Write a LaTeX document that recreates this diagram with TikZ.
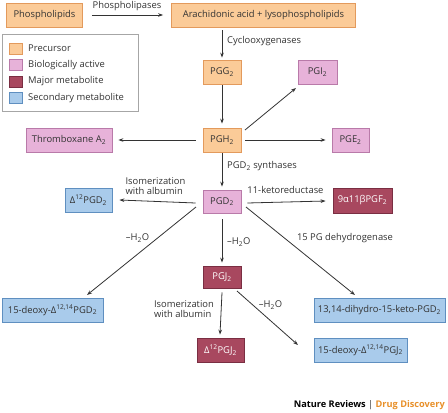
\documentclass[tikz,border=0pt]{standalone}
\usepackage{fontspec}
\setmainfont{Open Sans}
\usetikzlibrary{arrows.meta}
\definecolor{precF}{HTML}{FBCB98}
\definecolor{precD}{HTML}{E39A5C}
\definecolor{actF}{HTML}{E7B2D9}
\definecolor{actD}{HTML}{B97AA9}
\definecolor{majF}{HTML}{A8485F}
\definecolor{majD}{HTML}{7A2E42}
\definecolor{secF}{HTML}{A9CBEB}
\definecolor{secD}{HTML}{5F8FC0}
\definecolor{txt}{HTML}{333333}
\definecolor{ndorange}{HTML}{E8902A}
\tikzset{
  box/.style={draw, line width=0.8pt, inner sep=0pt, font=\fontsize{9.4}{10.5}\selectfont, text=txt},
  prec/.style={box, fill=precF, draw=precD},
  act/.style={box, fill=actF, draw=actD},
  maj/.style={box, fill=majF, draw=majD, text=white},
  sec/.style={box, fill=secF, draw=secD},
  conn/.style={draw=txt, line width=0.8pt, -{Stealth[length=5pt,width=3.6pt]}},
  lbl/.style={font=\fontsize{9.4}{10.5}\selectfont, text=txt, inner sep=0pt},
  legsq/.style={draw, line width=0.6pt, minimum width=13pt, minimum height=11pt, inner sep=0pt},
}
\begin{document}
\begin{tikzpicture}[x=1pt,y=-1pt]
\useasboundingbox (0,0) rectangle (448,413);
% nodes
\node[prec, minimum width=76pt, minimum height=24pt] (phos) at (44.5,15) {Phospholipids};
\node[prec, minimum width=184pt, minimum height=24pt] (ara) at (263.5,15) {Arachidonic acid + lysophospholipids};
\node[prec, minimum width=38pt, minimum height=24pt] (pgg) at (222,72) {PGG\textsubscript{2}};
\node[act, minimum width=39pt, minimum height=24pt] (pgi) at (317.5,72) {PGI\textsubscript{2}};
\node[prec, minimum width=38pt, minimum height=24pt] (pgh) at (222,140) {PGH\textsubscript{2}};
\node[act, minimum width=86pt, minimum height=24pt] (txa) at (69,140) {Thromboxane A\textsubscript{2}};
\node[act, minimum width=37pt, minimum height=24pt] (pge) at (350.5,140) {PGE\textsubscript{2}};
\node[act, minimum width=38pt, minimum height=23pt] (pgd) at (222,201.5) {PGD\textsubscript{2}};
\node[sec, minimum width=47pt, minimum height=24pt] (d12pgd) at (88.5,200) {Δ\textsuperscript{12}PGD\textsubscript{2}};
\node[maj, minimum width=59pt, minimum height=25pt] (pgf) at (362.5,200.5) {9α11βPGF\textsubscript{2}};
\node[maj, minimum width=38pt, minimum height=22pt] (pgj) at (222,277) {PGJ\textsubscript{2}};
\node[sec, minimum width=101pt, minimum height=24pt] (deoxypgd) at (52.5,310) {15-deoxy-Δ\textsuperscript{12,14}PGD\textsubscript{2}};
\node[sec, minimum width=131pt, minimum height=24pt] (dihydro) at (379.5,310) {13,14-dihydro-15-keto-PGD\textsubscript{2}};
\node[maj, minimum width=47pt, minimum height=24pt] (d12pgj) at (220.5,350) {Δ\textsuperscript{12}PGJ\textsubscript{2}};
\node[sec, minimum width=93pt, minimum height=24pt] (deoxypgj) at (360.5,350) {15-deoxy-Δ\textsuperscript{12,14}PGJ\textsubscript{2}};
% legend
\node[draw=black!35, line width=0.7pt, minimum width=136pt, minimum height=77pt, inner sep=0pt] (legend) at (70,72.5) {};
\node[legsq, fill=precF, draw=precD] (lg1) at (16,48.5) {};
\node[legsq, fill=actF, draw=actD] (lg2) at (16,65) {};
\node[legsq, fill=majF, draw=majD] (lg3) at (16,81.5) {};
\node[legsq, fill=secF, draw=secD] (lg4) at (16,98) {};
\node[lbl, anchor=west] (lt1) at (28,48.5) {Precursor};
\node[lbl, anchor=west] (lt2) at (28,65) {Biologically active};
\node[lbl, anchor=west] (lt3) at (28,81.5) {Major metabolite};
\node[lbl, anchor=west] (lt4) at (28,98) {Secondary metabolite};
% connectors
\draw[conn] ([xshift=9pt]phos.east) -- ([xshift=-8pt]ara.west);
\draw[conn] ([yshift=-3pt]pgg.north |- ara.south) -- ([yshift=2pt]pgg.north);
\draw[conn] ([yshift=-1pt]pgg.south) -- ([yshift=4pt]pgh.north);
\draw[conn] (245,130) -- (296,88);
\draw[conn] ([xshift=-7pt]pgh.west) -- ([xshift=6pt]txa.east);
\draw[conn] ([xshift=4pt]pgh.east) -- ([xshift=-6pt]pge.west);
\draw[conn] ([yshift=-1pt]pgh.south) -- ([yshift=3pt]pgd.north);
\draw[conn] ([xshift=-7pt,yshift=-1.5pt]pgd.west) -- ([xshift=7pt]d12pgd.east);
\draw[conn] ([xshift=6pt,yshift=-1.5pt]pgd.east) -- ([xshift=-7pt,yshift=-0.5pt]pgf.west);
\coordinate (dl1) at (196,207);
\coordinate (dl2) at (87,295);
\coordinate (dr1) at (246,207);
\coordinate (dr2) at (355,295);
\draw[conn] (dl1) -- (dl2);
\draw[conn] (dr1) -- (dr2);
\draw[conn] ([yshift=-6pt]pgd.south) -- ([yshift=3pt]pgj.north);
\draw[conn] ([yshift=-4pt]pgj.south) -- ([xshift=-0.5pt,yshift=3pt]d12pgj.north);
\coordinate (jr1) at (237,291);
\coordinate (jr2) at (298,345);
\draw[conn] (jr1) -- (jr2);
% labels
\node[lbl] (l1) at (127,6) {Phospholipases};
\node[lbl, anchor=west] (l2) at (227,41.5) {Cyclooxygenases};
\node[lbl, anchor=west] (l3) at (227,166) {PGD\textsubscript{2} synthases};
\node[lbl, align=left] (l4) at (155.5,186) {Isomerization\\with albumin};
\node[lbl] (l5) at (285.5,190) {11-ketoreductase};
\node[lbl] (l6) at (137.5,238) {–H\textsubscript{2}O};
\node[lbl, anchor=west] (l7) at (227,242) {–H\textsubscript{2}O};
\node[lbl] (l8) at (345,238) {15 PG dehydrogenase};
\node[lbl, align=left] (l9) at (184,309) {Isomerization\\with albumin};
\node[lbl] (l10) at (270.5,305) {–H\textsubscript{2}O};
\node[lbl, anchor=east, font=\fontsize{9.2}{11}\selectfont\bfseries] (credit) at (445,405) {\textcolor{black}{Nature Reviews} \textcolor{txt}{\mdseries|} \textcolor{ndorange}{Drug Discovery}};
\end{tikzpicture}
\end{document}
